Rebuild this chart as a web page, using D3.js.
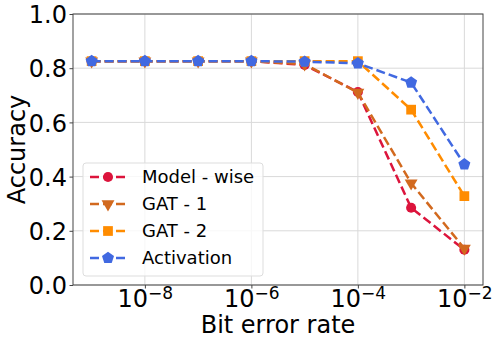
<!DOCTYPE html>
<html>
<head>
<meta charset="utf-8">
<script src="https://cdn.jsdelivr.net/npm/d3@7"></script>
<style>
  body { margin: 0; background: #fff; }
  text { font-family: "DejaVu Sans", sans-serif; }
</style>
</head>
<body>
<div id="chart"></div>
<script>
const bitErrorRates = [1e-9, 1e-8, 1e-7, 1e-6, 1e-5, 1e-4, 1e-3, 1e-2];
const modelWise = [0.826, 0.826, 0.826, 0.826, 0.812, 0.712, 0.285, 0.130];
const gat1 = [0.826, 0.826, 0.826, 0.826, 0.815, 0.710, 0.376, 0.135];
const gat2 = [0.826, 0.826, 0.826, 0.826, 0.826, 0.826, 0.647, 0.328];
const activation = [0.826, 0.826, 0.826, 0.826, 0.824, 0.818, 0.747, 0.445];
const xTicks = [1e-8, 1e-6, 1e-4, 1e-2];
const yTicks = [0, 0.2, 0.4, 0.6, 0.8, 1.0];

const series = [
  { name: "Model - wise", values: modelWise, color: "#dc143c", marker: "circle" },
  { name: "GAT - 1", values: gat1, color: "#d2691e", marker: "triangle" },
  { name: "GAT - 2", values: gat2, color: "#ff8c00", marker: "square" },
  { name: "Activation", values: activation, color: "#4169e1", marker: "pentagon" },
];

const width = 498;
const height = 344;
const margin = { left: 73, right: 15, top: 14, bottom: 59 };

const svg = d3
  .select("#chart")
  .append("svg")
  .attr("width", width)
  .attr("height", height);

const x = d3
  .scaleLog()
  .domain([Math.pow(10, -9.35), Math.pow(10, -1.65)])
  .range([margin.left, width - margin.right]);
const y = d3
  .scaleLinear()
  .domain([0, 1])
  .range([height - margin.bottom, margin.top]);

// grid
svg
  .append("g")
  .selectAll("line")
  .data(xTicks)
  .join("line")
  .attr("x1", (d) => x(d))
  .attr("x2", (d) => x(d))
  .attr("y1", y(0))
  .attr("y2", y(1))
  .attr("stroke", "#d9d9d9")
  .attr("stroke-width", 1);
svg
  .append("g")
  .selectAll("line")
  .data(yTicks)
  .join("line")
  .attr("x1", x.range()[0])
  .attr("x2", x.range()[1])
  .attr("y1", (d) => y(d))
  .attr("y2", (d) => y(d))
  .attr("stroke", "#d9d9d9")
  .attr("stroke-width", 1);

// axes
const xAxis = svg
  .append("g")
  .attr("transform", `translate(0,${y(0)})`)
  .call(d3.axisBottom(x).tickValues(xTicks).tickSize(3.5).tickFormat(""));
const yAxis = svg
  .append("g")
  .attr("transform", `translate(${x.range()[0]},0)`)
  .call(d3.axisLeft(y).tickValues(yTicks).tickSize(3.5).tickFormat(d3.format(".1f")));
xAxis.select(".domain").remove();
yAxis.select(".domain").remove();
xAxis.selectAll("line").attr("stroke", "#444");
yAxis.selectAll("line").attr("stroke", "#444");
yAxis
  .selectAll("text")
  .attr("x", -6)
  .attr("dy", "0.36em")
  .style("font-size", "24px")
  .attr("fill", "#000");

xAxis
  .selectAll(".tick")
  .append("text")
  .attr("y", 22)
  .attr("fill", "#000")
  .attr("text-anchor", "middle")
  .style("font-size", "24px")
  .each(function (d) {
    const t = d3.select(this);
    t.append("tspan").text("10");
    t.append("tspan")
      .attr("dy", -8)
      .style("font-size", "17px")
      .text("\u2212" + Math.round(-Math.log10(d)));
  });

// frame
svg
  .append("rect")
  .attr("x", x.range()[0])
  .attr("y", y(1))
  .attr("width", x.range()[1] - x.range()[0])
  .attr("height", y(0) - y(1))
  .attr("fill", "none")
  .attr("stroke", "#444")
  .attr("stroke-width", 1);

const symbols = {
  circle: d3.symbol().type(d3.symbolCircle).size(80),
  triangle: d3.symbol().type(d3.symbolTriangle).size(72),
  square: d3.symbol().type(d3.symbolSquare).size(95),
  pentagon: d3.symbol().type(pentagon()).size(95),
};

function pentagon() {
  return {
    draw(ctx, size) {
      const r = Math.sqrt(size / 2.378);
      for (let i = 0; i < 5; i++) {
        const a = -Math.PI / 2 + (i * 2 * Math.PI) / 5;
        const px = r * Math.cos(a);
        const py = r * Math.sin(a);
        if (i === 0) ctx.moveTo(px, py);
        else ctx.lineTo(px, py);
      }
      ctx.closePath();
    },
  };
}

function markerTransform(s, px, py) {
  return s.marker === "triangle" ? `translate(${px},${py}) rotate(180)` : `translate(${px},${py})`;
}

const line = d3
  .line()
  .x((d) => x(d[0]))
  .y((d) => y(d[1]));

series.forEach((s) => {
  const pts = bitErrorRates.map((b, i) => [b, s.values[i]]);
  const g = svg.append("g");
  g.append("path")
    .datum(pts)
    .attr("d", line)
    .attr("fill", "none")
    .attr("stroke", s.color)
    .attr("stroke-width", 2.5)
    .attr("stroke-dasharray", "9,4");
  g.selectAll("path.m")
    .data(pts)
    .join("path")
    .attr("class", "m")
    .attr("d", symbols[s.marker])
    .attr("transform", (d) => markerTransform(s, x(d[0]), y(d[1])))
    .attr("fill", s.color);
});

// legend
const legend = svg.append("g").attr("transform", "translate(83,163)");
legend
  .append("rect")
  .attr("width", 180)
  .attr("height", 113)
  .attr("rx", 3)
  .attr("fill", "#fff")
  .attr("fill-opacity", 0.8)
  .attr("stroke", "#ddd");
series.forEach((s, i) => {
  const ly = 14 + i * 27;
  legend
    .append("line")
    .attr("x1", 7)
    .attr("x2", 43)
    .attr("y1", ly)
    .attr("y2", ly)
    .attr("stroke", s.color)
    .attr("stroke-width", 2.5)
    .attr("stroke-dasharray", "9,4");
  legend
    .append("path")
    .attr("d", symbols[s.marker])
    .attr("transform", markerTransform(s, 25, ly))
    .attr("fill", s.color);
  legend
    .append("text")
    .attr("x", 59)
    .attr("y", ly)
    .attr("dy", "0.36em")
    .style("font-size", "18px")
    .text(s.name);
});

// axis labels
svg
  .append("text")
  .attr("x", (x.range()[0] + x.range()[1]) / 2)
  .attr("y", 333)
  .attr("text-anchor", "middle")
  .style("font-size", "24px")
  .text("Bit error rate");
svg
  .append("text")
  .attr("transform", `translate(25,${(y(0) + y(1)) / 2}) rotate(-90)`)
  .attr("text-anchor", "middle")
  .style("font-size", "24px")
  .text("Accuracy");
</script>
</body>
</html>
